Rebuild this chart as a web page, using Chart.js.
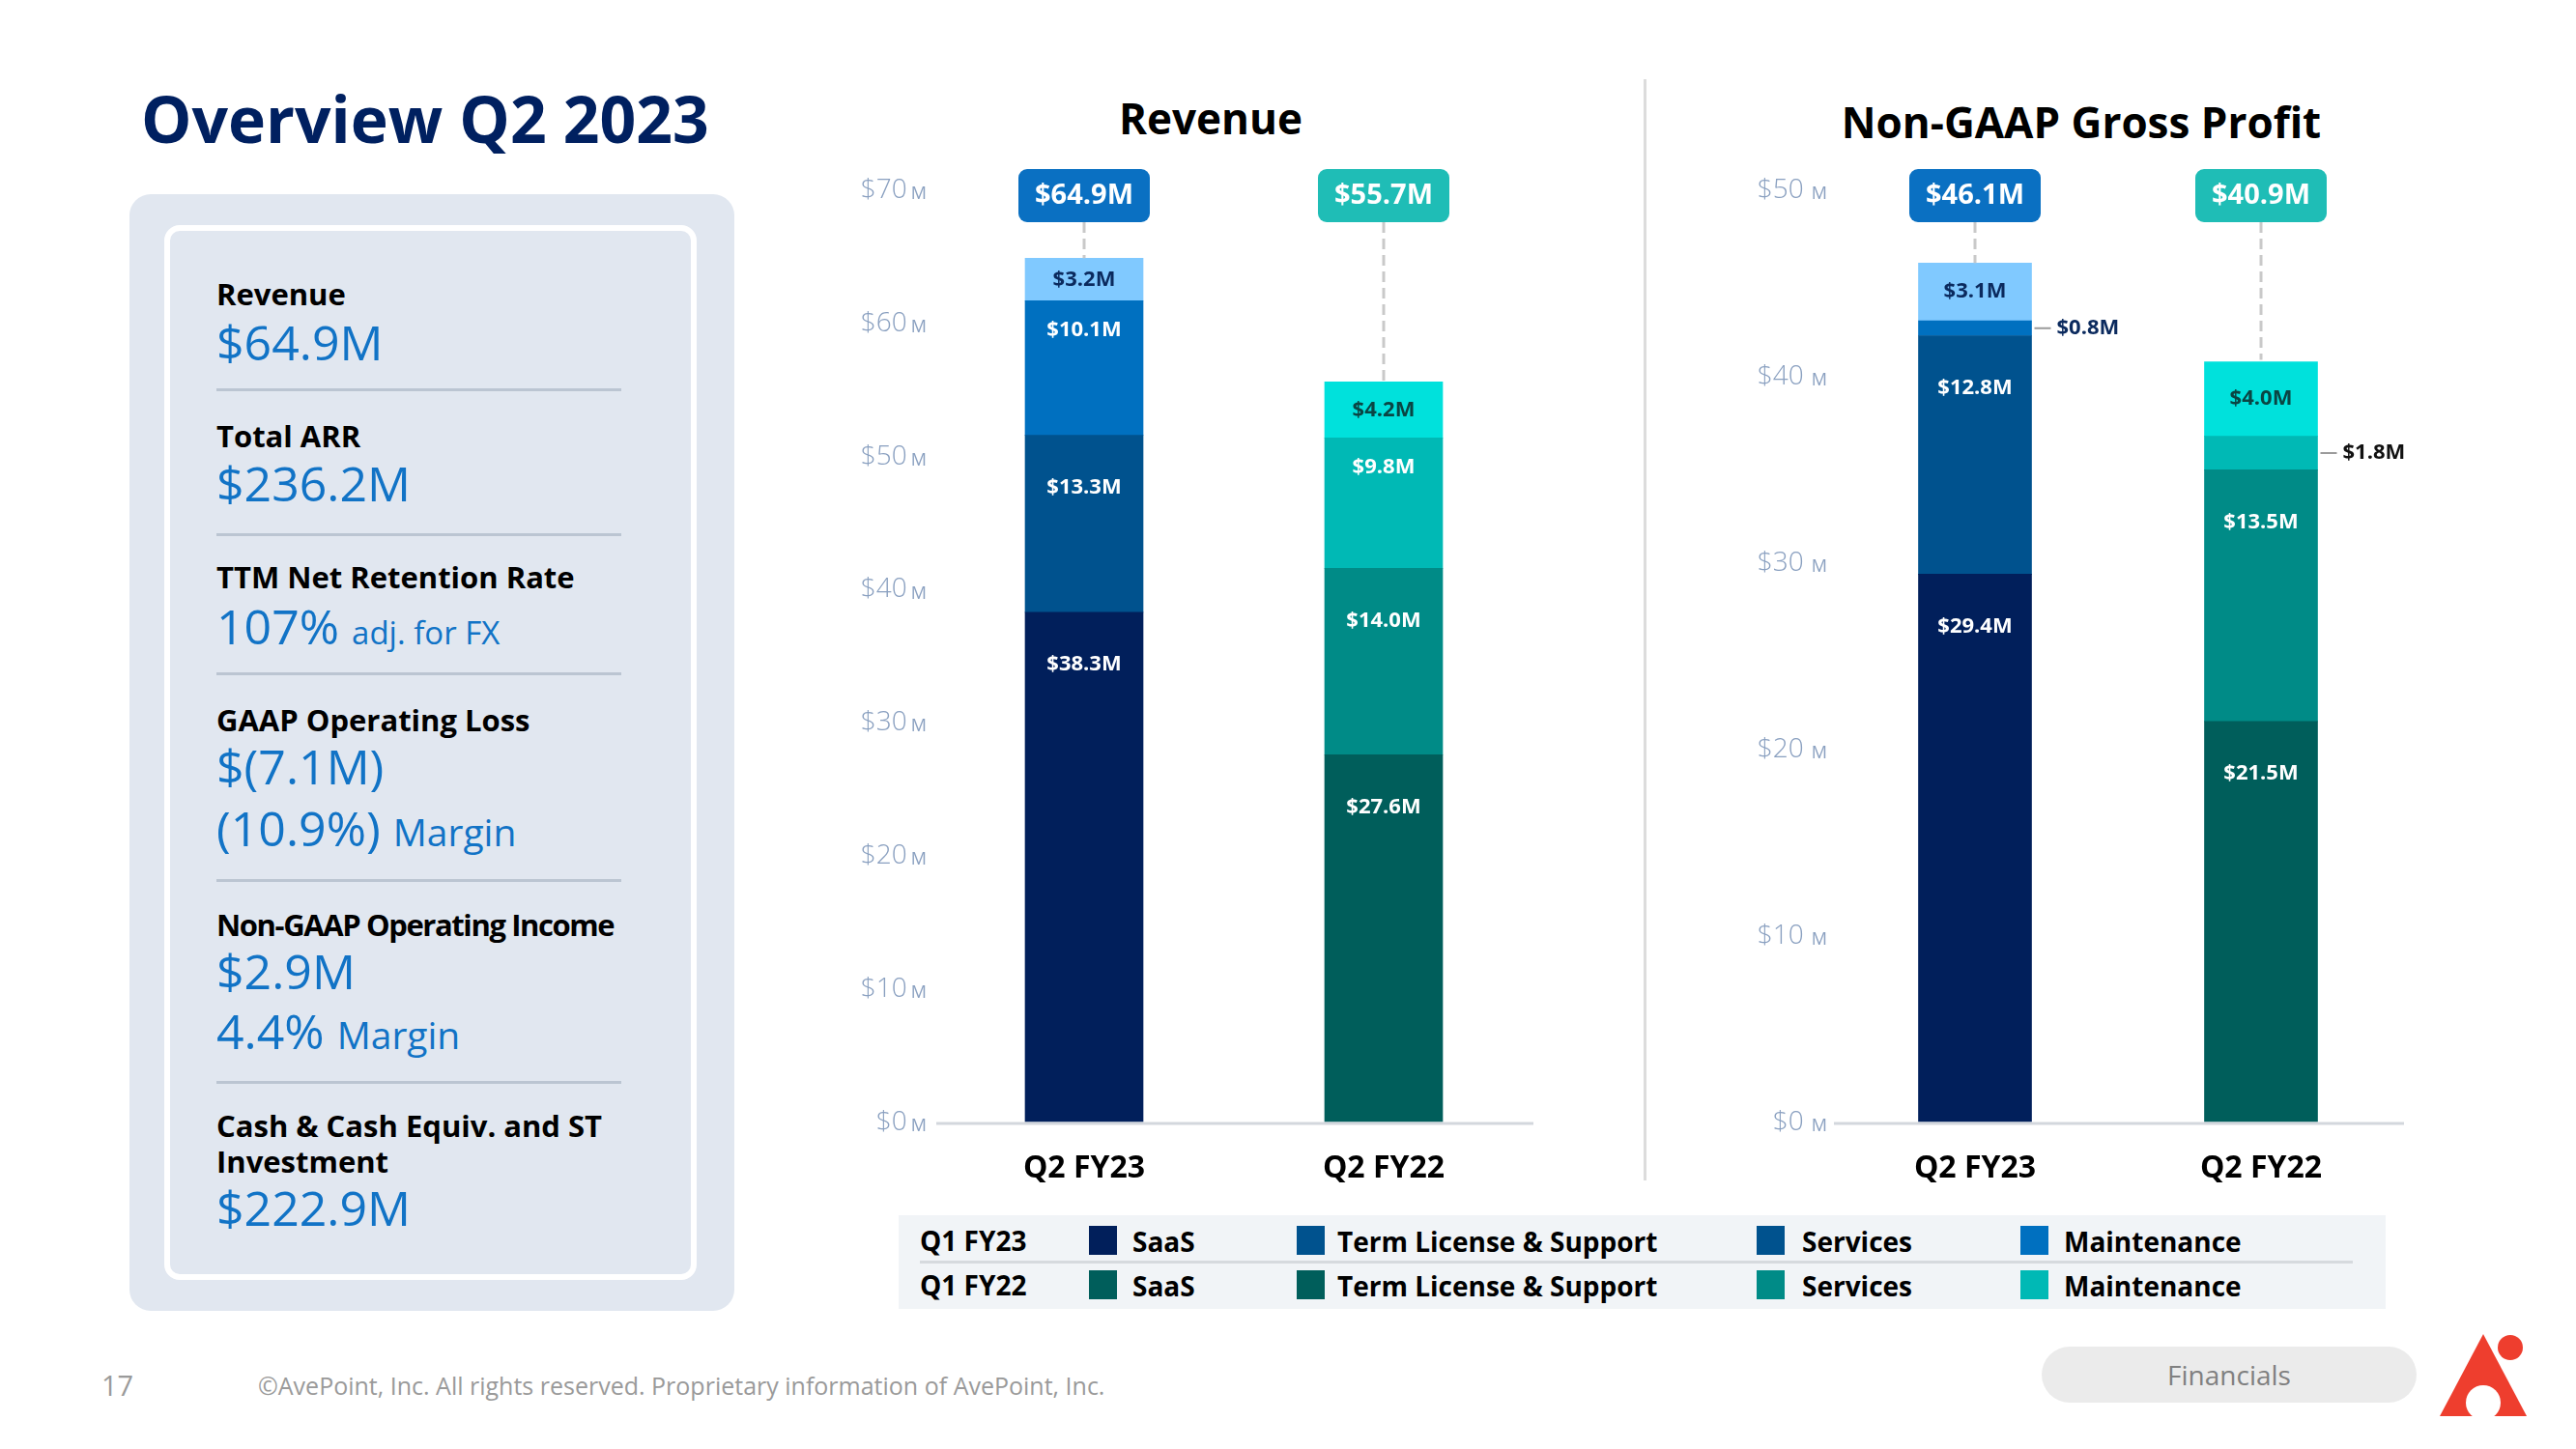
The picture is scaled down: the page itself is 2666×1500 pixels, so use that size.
<!DOCTYPE html>
<html>
<head>
<meta charset="utf-8">
<script src="https://cdn.jsdelivr.net/npm/chart.js@4.4.0/dist/chart.umd.min.js"></script>
<style>
  html, body { margin: 0; padding: 0; background: #fff; }
  body { width: 2666px; height: 1500px; position: relative; overflow: hidden; font-family: "Open Sans", sans-serif; }
  .abs { position: absolute; white-space: nowrap; }
  .title { left: 146px; top: 79px; font-size: 66px; font-weight: 700; color: #002060; line-height: 86px; }
  .panel { left: 134px; top: 201px; width: 626px; height: 1156px; background: #e1e7f0; border-radius: 22px; }
  .inner { left: 170px; top: 233px; width: 539px; height: 1080px; border: 6px solid #fff; border-radius: 16px; background: #e1e7f0; }
  .lbl { left: 224px; font-size: 31px; font-weight: 700; color: #000; height: 40px; line-height: 40px; }
  .val { left: 224px; font-size: 50px; font-weight: 400; color: #1173c6; height: 60px; line-height: 60px; }
  .val small { font-size: 33px; }
  .val .m { font-size: 39px; }
  .div { left: 224px; width: 419px; height: 3px; background: #bbc5d2; }
  .chartbox { position: absolute; }
  .vline { left: 1701px; top: 82px; width: 3px; height: 1140px; background: #dcdcdc; }
  .ctitle { font-size: 44px; font-weight: 700; color: #000; line-height: 60px; transform: translateX(-50%); }
  .legend { left: 930px; top: 1258px; width: 1539px; height: 97px; background: #f1f4f7; }
  .legsep { left: 952px; top: 1305px; width: 1483px; height: 3px; background: #d6dade; }
  .leg { font-size: 28px; font-weight: 700; color: #000; height: 40px; line-height: 40px; }
  .sw { width: 29px; height: 30px; }
  .foot { font-size: 25px; color: #9a9a9a; height: 36px; line-height: 36px; }
  .pill { left: 2113px; top: 1394px; width: 388px; height: 58px; background: #ebebeb; border-radius: 29px;
          font-size: 28px; color: #808080; text-align: center; line-height: 58px; }
</style>
</head>
<body>
<div class="abs title">Overview Q2 2023</div>

<div class="abs panel"></div>
<div class="abs inner"></div>

<div class="abs lbl" style="top:284px">Revenue</div>
<div class="abs val" style="top:324px">$64.9M</div>
<div class="abs div" style="top:402px"></div>
<div class="abs lbl" style="top:431px">Total ARR</div>
<div class="abs val" style="top:470px">$236.2M</div>
<div class="abs div" style="top:552px"></div>
<div class="abs lbl" style="top:577px">TTM Net Retention Rate</div>
<div class="abs val" style="top:618px">107% <small>adj. for FX</small></div>
<div class="abs div" style="top:696px"></div>
<div class="abs lbl" style="top:725px">GAAP Operating Loss</div>
<div class="abs val" style="top:763px">$(7.1M)</div>
<div class="abs val" style="top:827px">(10.9%) <span class="m">Margin</span></div>
<div class="abs div" style="top:910px"></div>
<div class="abs lbl" style="top:937px; letter-spacing:-1.4px">Non-GAAP Operating Income</div>
<div class="abs val" style="top:975px">$2.9M</div>
<div class="abs val" style="top:1037px">4.4% <span class="m">Margin</span></div>
<div class="abs div" style="top:1119px"></div>
<div class="abs lbl" style="top:1145px">Cash &amp; Cash Equiv. and ST</div>
<div class="abs lbl" style="top:1182px">Investment</div>
<div class="abs val" style="top:1220px">$222.9M</div>

<div class="abs ctitle" style="left:1253px; top:92px">Revenue</div>
<div class="abs ctitle" style="left:2154px; top:96px">Non-GAAP Gross Profit</div>
<div class="abs vline"></div>

<div class="chartbox" style="left:860px; top:100px; width:780px; height:1158px"><canvas id="revChart"></canvas></div>
<div class="chartbox" style="left:1720px; top:100px; width:820px; height:1158px"><canvas id="gpChart"></canvas></div>

<div class="abs legend"></div>
<div class="abs legsep"></div>
<div id="legendRows"></div>

<div class="abs foot" style="left:105px; top:1416px; font-size:29px">17</div>
<div class="abs foot" style="left:267px; top:1416px">©AvePoint, Inc. All rights reserved. Proprietary information of AvePoint, Inc.</div>
<div class="abs pill">Financials</div>
<svg class="abs" style="left:2515px; top:1370px" width="120" height="110" viewBox="2515 1370 120 110">
  <polygon points="2570,1381 2525,1466 2615,1466" fill="#ee3e2e"/>
  <circle cx="2598" cy="1395" r="13" fill="#ee3e2e"/>
  <circle cx="2570" cy="1452" r="18" fill="#fff"/>
  <rect x="2520" y="1466" width="110" height="12" fill="#fff"/>
</svg>

<script>
const categories = ['Q2 FY23', 'Q2 FY22'];
const segmentNames = ['SaaS', 'Term License & Support', 'Services', 'Maintenance'];

const revenueSaaS = [38.3, 27.6];
const revenueTerm = [13.3, 14.0];
const revenueServices = [10.1, 9.8];
const revenueMaint = [3.2, 4.2];
const revenueTotals = [64.9, 55.7];
const revenueTicks = [0, 10, 20, 30, 40, 50, 60, 70];

const gpSaaS = [29.4, 21.5];
const gpTerm = [12.8, 13.5];
const gpServices = [0.8, 1.8];
const gpMaint = [3.1, 4.0];
const gpTotals = [46.1, 40.9];
const gpTicks = [0, 10, 20, 30, 40, 50];

const legendRowLabels = ['Q1 FY23', 'Q1 FY22'];

// colours: first bar is the blue family, second bar the teal family
const segColors = [
  ['#011f5b', '#005e5b'],
  ['#00528e', '#008b87'],
  ['#0070c0', '#00b9b5'],
  ['#80c9ff', '#00e1dc']
];
const segTextColors = [
  ['#ffffff', '#ffffff'],
  ['#ffffff', '#ffffff'],
  ['#ffffff', '#ffffff'],
  ['#0b2a5e', '#0a4543']
];
const outsideTextColors = ['#0b2a5e', '#111111'];
const badgeColors = ['#0a70c2', '#1fbdb6'];
const legendColors = [
  ['#011f5b', '#00528e', '#00528e', '#0070c0'],
  ['#005e5b', '#005e5b', '#008b87', '#00b9b5']
];

Chart.defaults.font.family = '"Open Sans", sans-serif';

// legend table under the charts
const legendX = [[1127, 1172], [1342, 1384], [1818, 1865], [2091, 2136]];
const legendY = [1284, 1330];
let legHtml = '';
legendRowLabels.forEach((row, r) => {
  legHtml += `<div class="abs leg" style="left:952px; top:${legendY[r] - 20}px">${row}</div>`;
  segmentNames.forEach((name, i) => {
    legHtml += `<div class="abs sw" style="left:${legendX[i][0]}px; top:${legendY[r] - 15}px; background:${legendColors[r][i]}"></div>`;
    legHtml += `<div class="abs leg" style="left:${legendX[i][1]}px; top:${legendY[r] - 19}px">${name.replace('&', '&amp;')}</div>`;
  });
});
document.getElementById('legendRows').innerHTML = legHtml;

const overlay = {
  id: 'overlay',
  afterDatasetsDraw(chart, args, opts) {
    const { ctx, chartArea } = chart;
    const x = chart.scales.x, y = chart.scales.y;
    ctx.save();

    // base line
    const y0 = y.getPixelForValue(0);
    ctx.strokeStyle = '#d3d7dd';
    ctx.lineWidth = 3;
    ctx.beginPath();
    ctx.moveTo(chartArea.left + 2, y0 + 1.5);
    ctx.lineTo(chartArea.right, y0 + 1.5);
    ctx.stroke();

    // y tick labels with small M
    ctx.textBaseline = 'middle';
    ctx.textAlign = 'right';
    ctx.fillStyle = '#8aa0c0';
    y.ticks.forEach(t => {
      const py = y.getPixelForValue(t.value);
      const right = chartArea.left - opts.tickGap;
      ctx.font = '400 18px "Open Sans"';
      ctx.fillText('M', right, py + 4);
      const mw = ctx.measureText('M').width;
      ctx.font = '300 28px "Open Sans"';
      ctx.fillText('$' + t.value, right - mw - opts.mGap, py);
    });

    // segment labels
    ctx.font = 'bold 22px "Open Sans"';
    chart.data.datasets.forEach((ds, i) => {
      const meta = chart.getDatasetMeta(i);
      meta.data.forEach((bar, j) => {
        const v = ds.data[j];
        const h = bar.base - bar.y;
        const text = '$' + v.toFixed(1) + 'M';
        if (h < 40) {
          const xr = bar.x + bar.width / 2;
          const cy = bar.y + h / 2;
          ctx.strokeStyle = '#9b9b9b';
          ctx.lineWidth = 2;
          ctx.beginPath();
          ctx.moveTo(xr + 3, cy);
          ctx.lineTo(xr + 20, cy);
          ctx.stroke();
          ctx.textAlign = 'left';
          ctx.fillStyle = outsideTextColors[j];
          ctx.fillText(text, xr + 26, cy);
        } else {
          ctx.textAlign = 'center';
          ctx.fillStyle = ds.textColors[j];
          const off = h < 100 ? h / 2 : (h < 160 ? 30 : 54);
          ctx.fillText(text, bar.x, bar.y + off);
        }
      });
    });

    // total badges with dashed connectors
    opts.totals.forEach((tot, j) => {
      const cx = x.getPixelForValue(j);
      const top = chartArea.top - 22;
      const barTop = y.getPixelForValue(tot);
      ctx.strokeStyle = '#c9c9c9';
      ctx.lineWidth = 3;
      ctx.setLineDash([11, 6]);
      ctx.beginPath();
      ctx.moveTo(cx, top + 55);
      ctx.lineTo(cx, barTop);
      ctx.stroke();
      ctx.setLineDash([]);
      ctx.fillStyle = badgeColors[j];
      ctx.beginPath();
      ctx.roundRect(cx - 68, top, 136, 55, 9);
      ctx.fill();
      ctx.fillStyle = '#fff';
      ctx.textAlign = 'center';
      ctx.font = 'bold 29px "Open Sans"';
      ctx.fillText('$' + tot.toFixed(1) + 'M', cx, top + 28);
    });
    ctx.restore();
  }
};

function makeDatasets(series, thickness) {
  return series.map((data, i) => ({
    label: segmentNames[i],
    data: data,
    backgroundColor: segColors[i],
    textColors: segTextColors[i],
    borderWidth: 0,
    barThickness: thickness,
    stack: 'total'
  }));
}

function makeChart(id, series, ticks, totals, thickness, pad, tickGap, mGap) {
  new Chart(document.getElementById(id), {
    type: 'bar',
    data: { labels: categories, datasets: makeDatasets(series, thickness) },
    options: {
      responsive: true,
      maintainAspectRatio: false,
      animation: false,
      layout: { padding: pad },
      scales: {
        x: {
          stacked: true,
          grid: { display: false, drawTicks: false },
          border: { display: false },
          ticks: { color: '#000', font: { size: 32, weight: 'bold' }, padding: 29 }
        },
        y: {
          stacked: true,
          display: false,
          min: ticks[0],
          max: ticks[ticks.length - 1],
          afterBuildTicks: scale => { scale.ticks = ticks.map(v => ({ value: v })); }
        }
      },
      plugins: {
        legend: { display: false },
        tooltip: { enabled: false },
        overlay: { totals: totals, tickGap: tickGap, mGap: mGap }
      }
    },
    plugins: [overlay]
  });
}

makeChart('revChart', [revenueSaaS, revenueTerm, revenueServices, revenueMaint], revenueTicks, revenueTotals,
  122, { left: 107, right: 53, top: 97, bottom: 0 }, 8, 4);
makeChart('gpChart', [gpSaaS, gpTerm, gpServices, gpMaint], gpTicks, gpTotals,
  117, { left: 176, right: 52, top: 97, bottom: 0 }, 5, 8);
</script>
</body>
</html>
